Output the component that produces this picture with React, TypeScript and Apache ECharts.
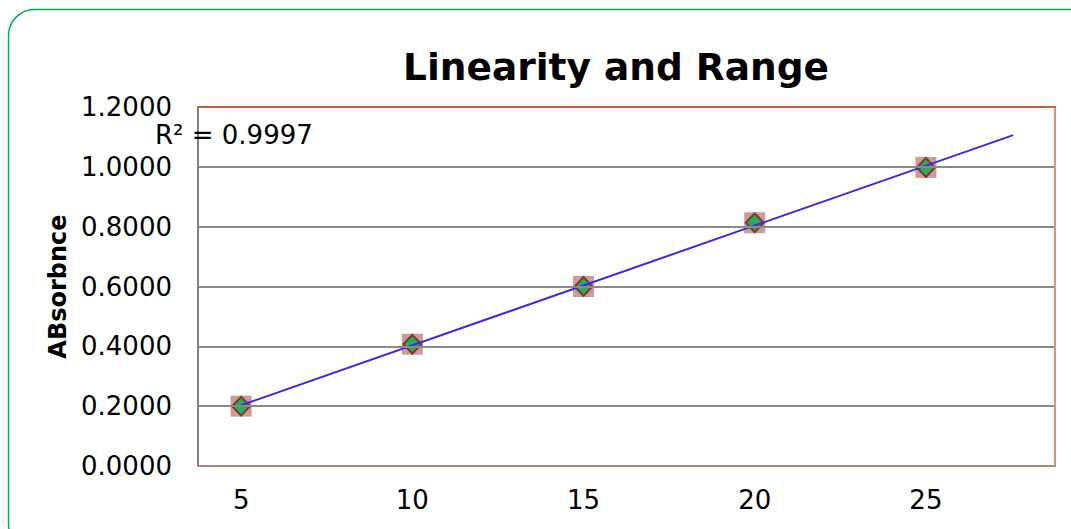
import React, { useEffect, useRef } from "react";
import * as echarts from "echarts";

const concentrations = [5, 10, 15, 20, 25];
const absorbance = [0.2, 0.407, 0.6, 0.813, 0.998];
const xTickLabels = [5, 10, 15, 20, 25];
const trendEndX = 27.55;
const titleText = "Linearity and Range";
const yAxisName = "ABsorbnce";
const r2Text = "R² = 0.9997";

function regression(xs: number[], ys: number[]) {
  const n = xs.length;
  const mx = xs.reduce((a, b) => a + b, 0) / n;
  const my = ys.reduce((a, b) => a + b, 0) / n;
  let sxy = 0, sxx = 0;
  for (let i = 0; i < n; i++) {
    sxy += (xs[i] - mx) * (ys[i] - my);
    sxx += (xs[i] - mx) * (xs[i] - mx);
  }
  const slope = sxy / sxx;
  return { slope, intercept: my - slope * mx };
}

export default function App() {
  const ref = useRef<HTMLDivElement>(null);
  useEffect(() => {
    if (!ref.current) return;
    const chart = echarts.init(ref.current, null, { renderer: "svg" });
    const { slope, intercept } = regression(concentrations, absorbance);
    const trend = [
      [concentrations[0], intercept + slope * concentrations[0]],
      [trendEndX, intercept + slope * trendEndX],
    ];
    const pts = concentrations.map((x, i) => [x, absorbance[i]]);
    const font = "DejaVu Sans, Verdana, sans-serif";
    chart.setOption({
      animation: false,
      backgroundColor: "#ffffff",
      grid: {
        left: 198,
        top: 107,
        width: 857,
        height: 359,
        show: false,
      },
      title: {
        text: titleText,
        left: 611,
        top: 43,
        textAlign: "center",
        textStyle: { fontFamily: font, fontSize: 37.5, fontWeight: "bold", color: "#000" },
      },
      xAxis: [
        {
          type: "value",
          position: "bottom",
          min: 3.74,
          max: 28.77,
          splitLine: { show: false },
          axisLine: { show: true, onZero: false, lineStyle: { color: "#a8887e", width: 2 } },
          axisTick: { show: false },
          axisLabel: {
            customValues: xTickLabels,
            fontFamily: font,
            fontSize: 26,
            color: "#000",
            margin: 21,
          },
          z: 6,
        },
        {
          type: "value",
          position: "top",
          min: 3.74,
          max: 28.77,
          splitLine: { show: false },
          axisLine: { show: true, onZero: false, lineStyle: { color: "#c0603f", width: 2 } },
          axisTick: { show: false },
          axisLabel: { show: false },
          z: 6,
        },
      ],
      yAxis: [
        {
          type: "value",
          position: "left",
          min: 0,
          max: 1.2,
          interval: 0.2,
          splitLine: { show: true, lineStyle: { color: "#8a8a8a", width: 2 } },
          axisLine: { show: true, onZero: false, lineStyle: { color: "#8a8280", width: 2 } },
          axisTick: { show: false },
          axisLabel: {
            formatter: (v: number) => v.toFixed(4),
            fontFamily: font,
            fontSize: 26,
            color: "#000",
            margin: 26,
          },
          name: yAxisName,
          nameLocation: "middle",
          nameGap: 128,
          nameTextStyle: { fontFamily: font, fontSize: 24, fontWeight: "bold", color: "#000" },
          z: 5,
        },
        {
          type: "value",
          position: "right",
          min: 0,
          max: 1.2,
          splitLine: { show: false },
          axisLine: { show: true, onZero: false, lineStyle: { color: "#e0907a", width: 2 } },
          axisTick: { show: false },
          axisLabel: { show: false },
          z: 6,
        },
      ],
      graphic: [
        {
          type: "rect",
          shape: { x: 8.5, y: 9.5, width: 1090, height: 540, r: 26 },
          style: { fill: "none", stroke: "#00b050", lineWidth: 1.5 },
          z: 100,
        },
        {
          type: "text",
          left: 155,
          top: 122,
          style: { text: r2Text, fontFamily: font, fontSize: 26, fill: "#000" },
          z: 100,
        },
      ],
      series: [
        {
          type: "scatter",
          data: pts,
          symbol: "rect",
          symbolSize: 21,
          itemStyle: { color: "rgba(160, 80, 70, 0.7)" },
          z: 2,
        },
        {
          type: "scatter",
          data: pts,
          symbol: "diamond",
          symbolSize: [18, 19],
          itemStyle: { color: "#00b050", borderColor: "#8b1a1a", borderWidth: 2 },
          z: 3,
        },
        {
          type: "line",
          data: trend,
          showSymbol: false,
          symbol: "none",
          lineStyle: { color: "#3a2ae6", width: 2 },
          z: 4,
        },
      ],
    });
    return () => chart.dispose();
  }, []);
  return (
    <div
      ref={ref}
      style={{ position: "absolute", left: 0, top: 0, width: 1071, height: 529 }}
    />
  );
}
